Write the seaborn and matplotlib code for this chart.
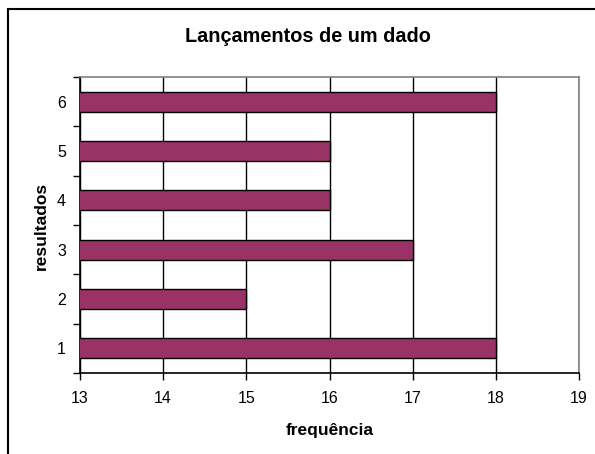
import matplotlib
matplotlib.use("Agg")
import matplotlib.pyplot as plt
import seaborn as sns
import pandas as pd
from matplotlib.patches import Rectangle

resultados = ["6", "5", "4", "3", "2", "1"]
frequencia = [18, 16, 16, 17, 15, 18]
x_ticks = [13, 14, 15, 16, 17, 18, 19]

sns.set_style("white")
plt.rcParams["font.family"] = ["Liberation Sans", "DejaVu Sans"]
plt.rcParams["text.color"] = "black"
plt.rcParams["axes.labelcolor"] = "black"
plt.rcParams["xtick.color"] = "black"
plt.rcParams["ytick.color"] = "black"

df = pd.DataFrame({"resultados": resultados, "frequencia": frequencia})

fig = plt.figure(figsize=(5.95, 4.54), dpi=100)
ax = fig.add_axes([80/595, 1-373/454, (579-80)/595, (373-77)/454])

sns.barplot(data=df, x="frequencia", y="resultados", order=resultados,
            orient="h", color="#993366", saturation=1, width=0.4,
            edgecolor="black", linewidth=1, ax=ax, zorder=3)

ax.set_xlim(13, 19)
ax.set_ylim(5.5, -0.5)
ax.set_xticks(x_ticks)
ax.set_xticklabels([str(t) for t in x_ticks], fontsize=11.5)
ax.xaxis.grid(True, color="black", linewidth=1)
ax.set_axisbelow(True)

# Excel-style category ticks at boundaries, labels at centers
ax.set_yticks([i - 0.5 for i in range(len(resultados) + 1)])
ax.set_yticklabels([])
ax.set_yticks(range(len(resultados)), minor=True)
ax.set_yticklabels(resultados, minor=True, fontsize=11.5)
ax.tick_params(axis="y", which="major", length=5, width=1, color="black", direction="out", left=True)
ax.tick_params(axis="y", which="minor", length=0, pad=10, labelcolor="black")
ax.tick_params(axis="x", which="major", length=5, width=1, color="black", direction="out", bottom=True, pad=8, labelcolor="black")

for s in ["left", "bottom"]:
    ax.spines[s].set_color("black")
    ax.spines[s].set_linewidth(1.2)
for s in ["top", "right"]:
    ax.spines[s].set_color("#808080")
    ax.spines[s].set_linewidth(1.2)

ax.set_xlabel("frequência", fontsize=12.5, fontweight="bold", color="black")
ax.set_ylabel("resultados", fontsize=12.5, fontweight="bold", color="black")
ax.xaxis.set_label_coords((330-80)/499, -(430-373)/296)
ax.yaxis.set_label_coords(-(80-41)/499, (373-226)/296)
ax.xaxis.label.set_va("center")
ax.yaxis.label.set_va("center")

fig.text(308/595, 1-37/454, "Lançamentos de um dado", ha="center", va="center",
         fontsize=14.3, fontweight="bold", color="black")

fig.patches.append(Rectangle((8/595, -0.1), 1.2, 1 - 9/454 + 0.1,
                             transform=fig.transFigure, fill=False,
                             edgecolor="black", linewidth=1.5))

fig.savefig("out.png", dpi=100)
